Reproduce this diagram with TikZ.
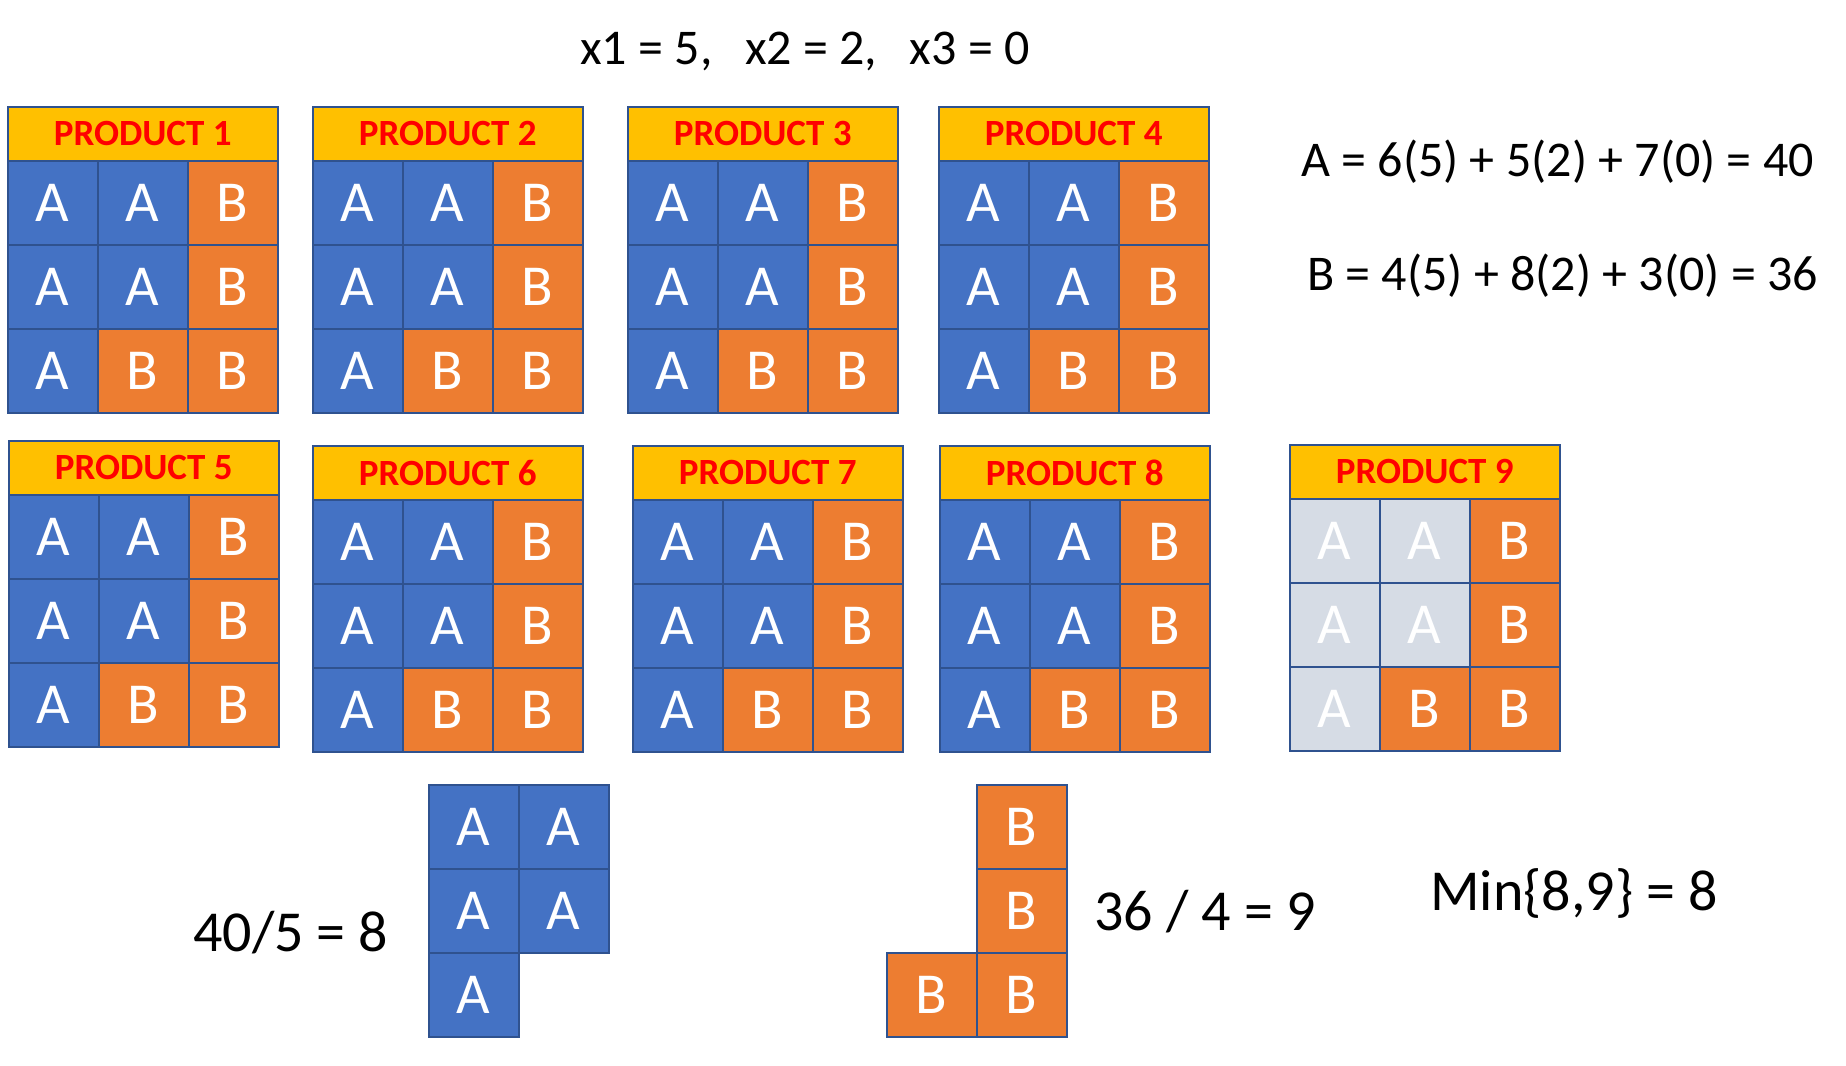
\documentclass[tikz,border=0pt]{standalone}
\usepackage{fontspec}
\setmainfont{Carlito}
\usepackage{tikz}
\usetikzlibrary{positioning}
\definecolor{blueA}{RGB}{68,114,196}
\definecolor{orangeB}{RGB}{237,125,49}
\definecolor{greyA}{RGB}{214,220,229}
\definecolor{gold}{RGB}{255,192,0}
\definecolor{headred}{RGB}{255,0,0}
\definecolor{edge}{RGB}{47,82,143}
% one product: #1 number, #2/#3 top left corner, #4 fill of the A cells
\newcommand{\prodblock}[4]{%
  \node[head] (p#1) at (#2,#3) {PRODUCT #1};
  \foreach \r/\c/\t/\f in {0/0/A/#4,0/1/A/#4,0/2/B/orangeB,1/0/A/#4,1/1/A/#4,1/2/B/orangeB,2/0/A/#4,2/1/B/orangeB,2/2/B/orangeB}
    \node[cell,fill=\f] (p#1-\r\c) at ({#2+90*\c},{#3+54+84*\r}) {\t};
}

\begin{document}
\begin{tikzpicture}[
  x=1pt,y=-1pt,
  head/.style={draw=edge,line width=1.5pt,fill=gold,anchor=north west,inner sep=0pt,minimum width=270pt,minimum height=54pt,text=headred,font=\fontsize{37}{40}\selectfont\bfseries},
  cell/.style={draw=edge,line width=1.5pt,anchor=north west,inner sep=0pt,minimum width=90pt,minimum height=84pt,text=white,font=\fontsize{58}{60}\selectfont},
  eqn/.style={inner sep=0pt,font=\fontsize{50}{54}\selectfont},
  result/.style={inner sep=0pt,anchor=base west,font=\fontsize{58}{62}\selectfont}
]
  \useasboundingbox (0,0) rectangle (1846,1065);

  \node[eqn,anchor=base] (vals) at (805,64) {x1 = 5,\hspace{0.65em}x2 = 2,\hspace{0.65em}x3 = 0};

  % products
  \prodblock{1}{7}{106}{blueA}
  \prodblock{2}{312}{106}{blueA}
  \prodblock{3}{627}{106}{blueA}
  \prodblock{4}{938}{106}{blueA}
  \prodblock{5}{8}{440}{blueA}
  \prodblock{6}{312}{445}{blueA}
  \prodblock{7}{632}{445}{blueA}
  \prodblock{8}{939}{445}{blueA}
  \prodblock{9}{1289}{444}{greyA}

  \node[eqn,anchor=base west] (eqA) at (1301,176) {A = 6(5) + 5(2) + 7(0) = 40};
  \node[eqn,anchor=base west] (eqB) at (1307,290) {B = 4(5) + 8(2) + 3(0) = 36};

  % what is left over
  \foreach \x/\y [count=\i] in {428/784,518/784,428/868,518/868,428/952}
    \node[cell,fill=blueA] (a\i) at (\x,\y) {A};
  \foreach \x/\y [count=\i] in {976/784,976/868,886/952,976/952}
    \node[cell,fill=orangeB] (b\i) at (\x,\y) {B};

  \node[result] (divA) at (193,951) {40/5 = 8};
  \node[result] (divB) at (1094,930) {36 / 4 = 9};
  \node[result] (minAB) at (1430,910) {Min\{8,9\} = 8};
\end{tikzpicture}
\end{document}
